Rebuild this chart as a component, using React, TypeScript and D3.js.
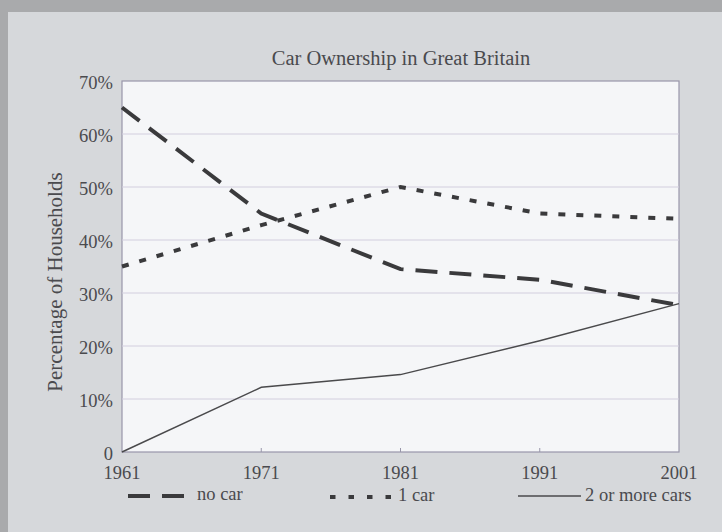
import React from "react";
import * as d3 from "d3";

const years = [1961, 1971, 1981, 1991, 2001];
const noCar = [65, 45, 34.5, 32.5, 27.7];
const oneCar = [35, 42.8, 50, 45, 44];
const twoPlus = [0, 12.2, 14.6, 21, 28];
const yTicks = [0, 10, 20, 30, 40, 50, 60, 70];

const W = 722, H = 532;
const M = { left: 122, right: 679, top: 81, bottom: 452 };

export default function App() {
  const x = d3.scaleLinear().domain([1961, 2001]).range([M.left, M.right]);
  const y = d3.scaleLinear().domain([0, 70]).range([M.bottom, M.top]);
  const line = d3
    .line<number>()
    .x((_, i) => x(years[i]))
    .y((d) => y(d));
  const txt = "#4a4a4e";
  const font = "'Liberation Serif', 'Times New Roman', serif";
  return (
    <svg
      width={W}
      height={H}
      style={{ position: "absolute", left: 0, top: 0 }}
      fontFamily={font}
    >
      <rect x={0} y={0} width={W} height={H} fill="#a9aaac" />
      <rect x={8} y={12} width={W - 8} height={H - 12} fill="#d6d8db" />
      <rect
        x={M.left}
        y={M.top}
        width={M.right - M.left}
        height={M.bottom - M.top}
        fill="#f5f6f8"
        stroke="#9896aa"
        strokeWidth={1.2}
      />
      {yTicks.slice(1, -1).map((t) => (
        <line
          key={t}
          x1={M.left}
          x2={M.right}
          y1={y(t)}
          y2={y(t)}
          stroke="#d2cede"
          strokeWidth={1}
        />
      ))}
      {years.slice(1, -1).map((yr) => (
        <line
          key={yr}
          x1={x(yr)}
          x2={x(yr)}
          y1={M.bottom}
          y2={M.bottom - 4}
          stroke="#9896aa"
        />
      ))}
      <text x={401} y={65} textAnchor="middle" fontSize={20.5} fill={txt}>
        Car Ownership in Great Britain
      </text>
      {yTicks.map((t) => (
        <text
          key={t}
          x={M.left - 9}
          y={y(t) + 8}
          textAnchor="end"
          fontSize={18.5}
          fill={txt}
        >
          {t === 0 ? "0" : `${t}%`}
        </text>
      ))}
      {years.map((yr) => (
        <text
          key={yr}
          x={x(yr)}
          y={479}
          textAnchor="middle"
          fontSize={18.5}
          fill={txt}
        >
          {yr}
        </text>
      ))}
      <text
        transform={`translate(62, ${282}) rotate(-90)`}
        textAnchor="middle"
        fontSize={21}
        fill={txt}
      >
        Percentage of Households
      </text>
      <path
        d={line(noCar) || ""}
        fill="none"
        stroke="#3a3a3c"
        strokeWidth={4}
        strokeDasharray="22 12"
      />
      <path
        d={line(oneCar) || ""}
        fill="none"
        stroke="#3a3a3c"
        strokeWidth={4}
        strokeDasharray="7 11"
      />
      <path
        d={line(twoPlus) || ""}
        fill="none"
        stroke="#4a4a4c"
        strokeWidth={1.5}
      />
      {/* legend */}
      <g fontSize={18.5} fill={txt}>
        <line x1={128} x2={184} y1={496} y2={496} stroke="#3a3a3c" strokeWidth={4} strokeDasharray="22 12" />
        <text x={197} y={500}>no car</text>
        <line x1={330} x2={391} y1={497} y2={497} stroke="#3a3a3c" strokeWidth={4} strokeDasharray="5.5 13" />
        <text x={398} y={501}>1 car</text>
        <line x1={518} x2={581} y1={496} y2={496} stroke="#4a4a4c" strokeWidth={1.5} />
        <text x={585} y={501}>2 or more cars</text>
      </g>
    </svg>
  );
}
